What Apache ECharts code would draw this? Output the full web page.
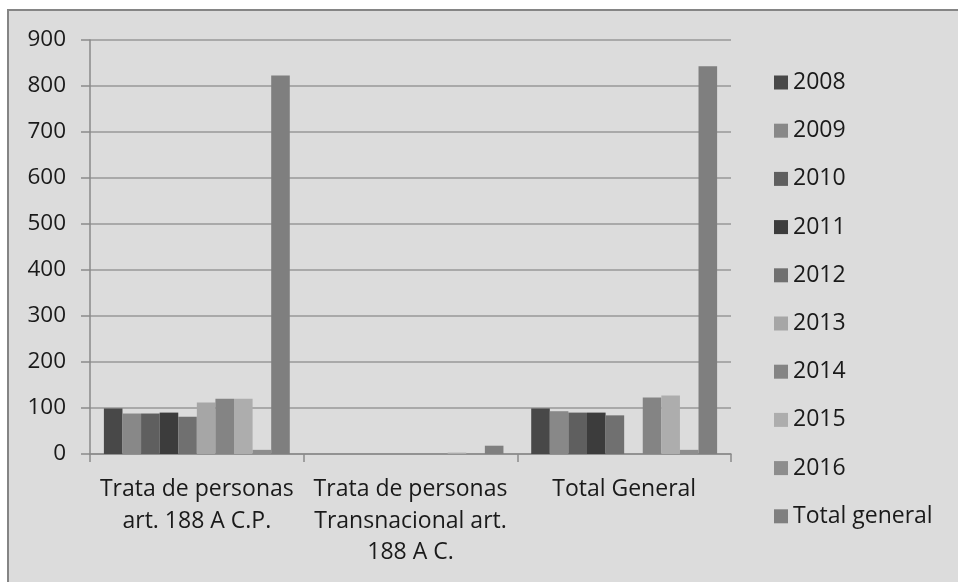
<!DOCTYPE html>
<html>
<head>
<meta charset="utf-8">
<script src="https://cdn.jsdelivr.net/npm/echarts@6/dist/echarts.min.js"></script>
<style>
html,body{margin:0;padding:0;background:#ffffff;}
#chart{width:958px;height:582px;}
</style>
</head>
<body>
<div id="chart"></div>
<script>
const categories = ["Trata de personas\nart. 188 A C.P.", "Trata de personas\nTransnacional art.\n188 A C.", "Total General"];
const seriesNames = ["2008", "2009", "2010", "2011", "2012", "2013", "2014", "2015", "2016", "Total general"];
const v2008 = [99, 0, 99];
const v2009 = [88, 0, 93];
const v2010 = [88, 0, 90];
const v2011 = [90, 0, 90];
const v2012 = [81, 0, 84];
const v2013 = [112, 0, 0];
const v2014 = [120, 0, 123];
const v2015 = [120, 3, 127];
const v2016 = [9, 0, 9];
const vTotal = [823, 18, 843];
const yTicks = [0, 100, 200, 300, 400, 500, 600, 700, 800, 900];

const seriesValues = [v2008, v2009, v2010, v2011, v2012, v2013, v2014, v2015, v2016, vTotal];
const colors = ["#484848", "#888888", "#5f5f5f", "#3c3c3c", "#707070", "#a6a6a6", "#848484", "#adadad", "#8d8d8d", "#7f7f7f"];

const chart = echarts.init(document.getElementById('chart'), null, {renderer: 'canvas'});
const font = '"Open Sans"';
chart.setOption({
  animation: false,
  color: colors,
  graphic: [{
    type: 'rect', z: -10, silent: true,
    shape: {x: 8, y: 10, width: 960, height: 590},
    style: {fill: '#dcdcdc', stroke: '#858585', lineWidth: 2}
  }],
  grid: {left: 90, top: 40, width: 641, height: 414, containLabel: false},
  legend: {
    orient: 'vertical', left: 769, top: 66,
    itemWidth: 14, itemHeight: 14, itemGap: 25.2,
    icon: 'rect',
    textStyle: {fontFamily: font, fontSize: 23, color: '#1a1a1a', lineHeight: 22},
    data: seriesNames
  },
  xAxis: {
    type: 'category', data: categories,
    axisLine: {show: true, lineStyle: {color: '#8a8a8a', width: 1.5}},
    axisTick: {show: true, length: 8, lineStyle: {color: '#8a8a8a', width: 1.5}},
    axisLabel: {interval: 0, fontFamily: font, fontSize: 23, color: '#1a1a1a', lineHeight: 31.5, margin: 20}
  },
  yAxis: {
    type: 'value', min: 0, max: 900, interval: 100,
    axisLine: {show: true, lineStyle: {color: '#8a8a8a', width: 1.5}},
    axisTick: {show: true, length: 9, lineStyle: {color: '#8a8a8a', width: 1.5}},
    splitLine: {lineStyle: {color: '#999999', width: 1.5}},
    axisLabel: {fontFamily: font, fontSize: 22.5, color: '#1a1a1a', margin: 24,
      formatter: function (v) { return yTicks.indexOf(v) >= 0 ? String(v) : ''; }}
  },
  series: seriesNames.map((n, i) => ({
    name: n, type: 'bar', data: seriesValues[i],
    barGap: '0%', barCategoryGap: '13%'
  }))
});
</script>
</body>
</html>
